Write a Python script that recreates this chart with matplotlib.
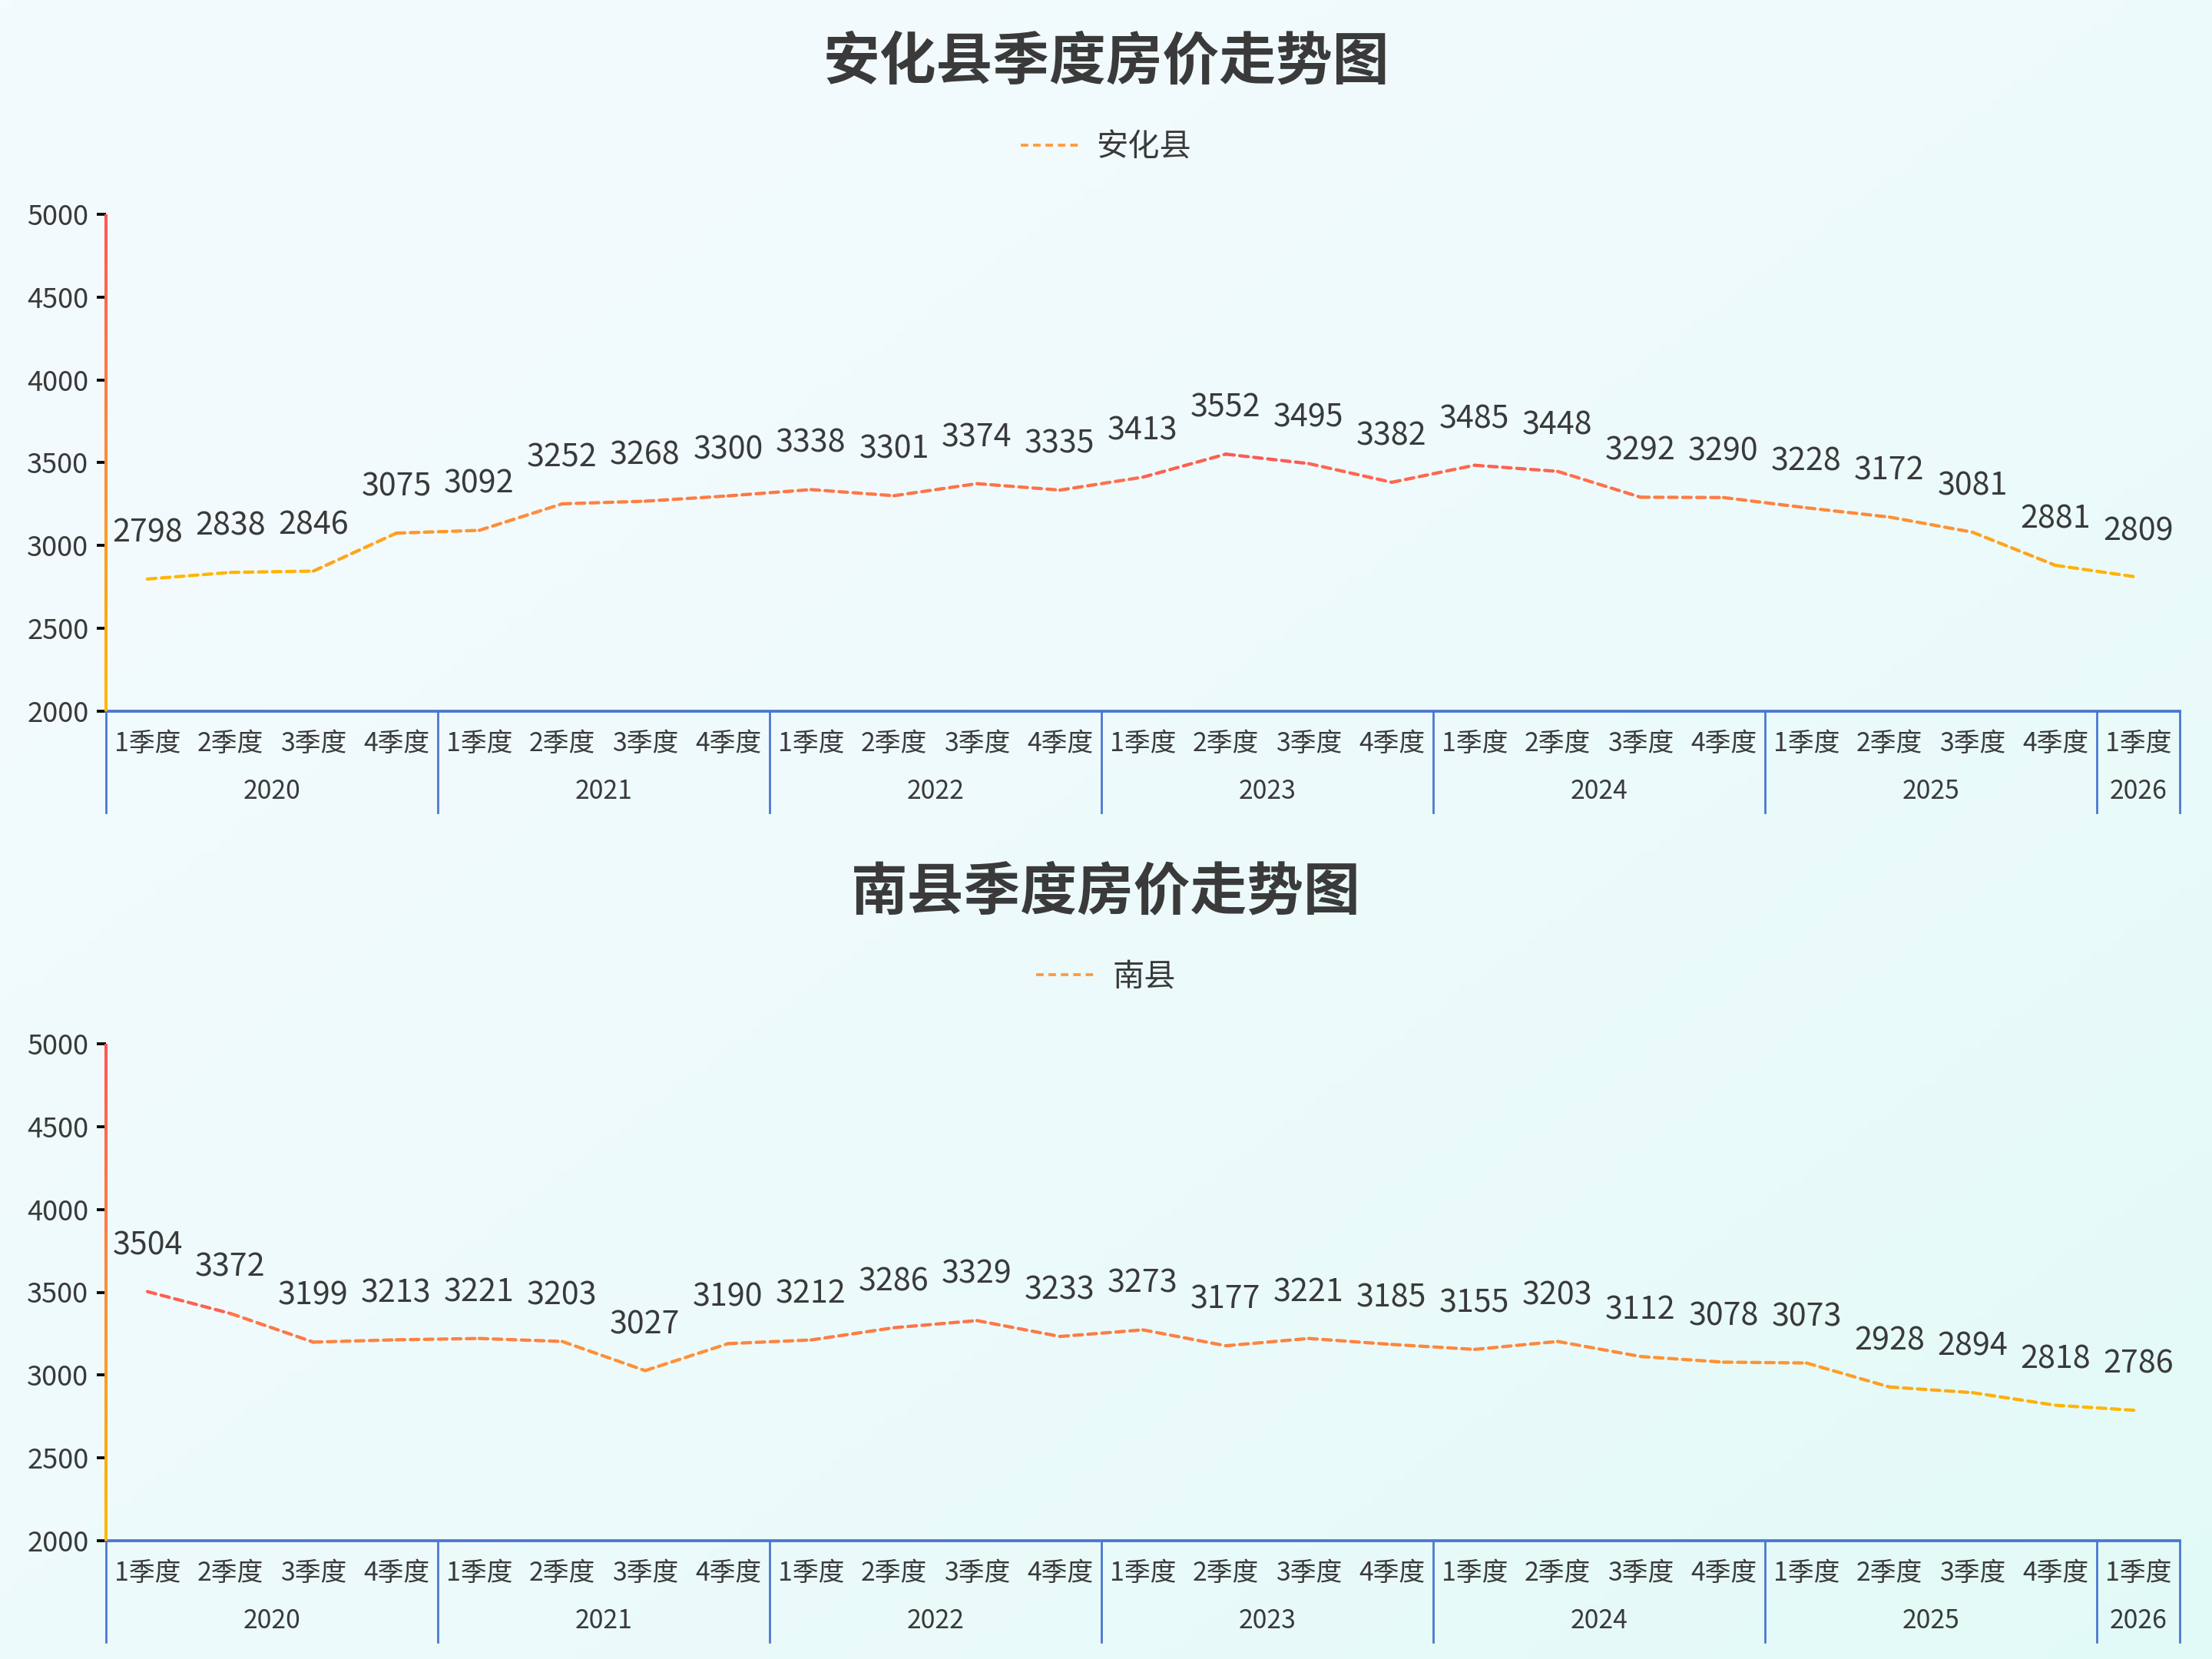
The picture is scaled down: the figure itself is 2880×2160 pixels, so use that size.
import numpy as np
import matplotlib
matplotlib.use("Agg")
import matplotlib.pyplot as plt
from matplotlib.collections import LineCollection
from matplotlib.colors import LinearSegmentedColormap
from matplotlib.lines import Line2D
import matplotlib.transforms as mtransforms

plt.rcParams['font.family'] = ['Noto Sans CJK SC', 'DejaVu Sans']

# data
quarters = ["1季度", "2季度", "3季度", "4季度"] * 6 + ["1季度"]
years = ["2020", "2021", "2022", "2023", "2024", "2025", "2026"]
year_sizes = [4, 4, 4, 4, 4, 4, 1]

anhua = [2798, 2838, 2846, 3075, 3092, 3252, 3268, 3300, 3338, 3301, 3374, 3335,
         3413, 3552, 3495, 3382, 3485, 3448, 3292, 3290, 3228, 3172, 3081, 2881, 2809]
nanxian = [3504, 3372, 3199, 3213, 3221, 3203, 3027, 3190, 3212, 3286, 3329, 3233,
           3273, 3177, 3221, 3185, 3155, 3203, 3112, 3078, 3073, 2928, 2894, 2818, 2786]

charts = [("安化县季度房价走势图", "安化县", anhua),
          ("南县季度房价走势图", "南县", nanxian)]

cmap = LinearSegmentedColormap.from_list("heat", ["#ffb800", "#ff8c3a", "#ff5656"])
TXT = "#3a3a3a"
BLUE = "#4a76cf"
W, H = 2880, 2160

fig = plt.figure(figsize=(16, 12), dpi=180)

# background gradient
bg = fig.add_axes([0, 0, 1, 1], zorder=-10)
gx, gy = np.meshgrid(np.linspace(0, 1, 200), np.linspace(0, 1, 150))
g = (gx + gy) / 2
c0 = np.array([0xf4, 0xfb, 0xfe]) / 255
c1 = np.array([0xe2, 0xfa, 0xf7]) / 255
img = c0 + (c1 - c0) * g[..., None] ** 1.5
bg.imshow(img, aspect="auto", extent=[0, 1, 0, 1], origin="upper")
bg.axis("off")

for k, (title, name, vals) in enumerate(charts):
    off = k * 1080
    ax = fig.add_axes([138 / W, 1 - (926 + off) / H, 2700 / W, 647 / H])
    ax.set_facecolor("none")
    x = np.arange(len(vals))
    y = np.array(vals, dtype=float)

    # gradient dashed line (colour by value inside series range)
    pts = np.column_stack([x, y])
    segs = np.stack([pts[:-1], pts[1:]], axis=1)
    mid = (y[:-1] + y[1:]) / 2
    norm = (mid - y.min()) / (y.max() - y.min())
    lc = LineCollection(segs, colors=cmap(norm), linewidths=1.7,
                        linestyles=[(0, (2.6, 1.7))], capstyle="round")
    ax.add_collection(lc)

    for xi, yi in zip(x, vals):
        ax.annotate(str(yi), (xi, yi), xytext=(0, 24), textcoords="offset points",
                    ha="center", va="center", fontsize=16.5, color=TXT)

    ax.set_xlim(-0.5, len(vals) - 0.5)
    ax.set_ylim(2000, 5000)
    ax.set_yticks(np.arange(2000, 5001, 500))
    ax.tick_params(axis="y", length=5, width=1.5, pad=4, labelsize=14.5, labelcolor=TXT)
    for t, v in zip(ax.yaxis.get_major_ticks(), ax.get_yticks()):
        t.tick1line.set_color(cmap((v - 2000) / 3000))
    ax.set_xticks([])
    for s in ["top", "right", "left"]:
        ax.spines[s].set_visible(False)
    ax.spines["bottom"].set_color(BLUE)
    ax.spines["bottom"].set_linewidth(1.5)

    # gradient y axis line
    yy = np.linspace(2000, 5000, 200)
    ysegs = np.stack([np.column_stack([np.full(199, -0.5), yy[:-1]]),
                      np.column_stack([np.full(199, -0.5), yy[1:]])], axis=1)
    ax.add_collection(LineCollection(ysegs, colors=cmap((yy[:-1] - 2000) / 3000),
                                     linewidths=1.6, clip_on=False, zorder=3))

    # two-level category axis
    trans = mtransforms.blended_transform_factory(ax.transData, ax.transAxes)
    for xi, q in zip(x, quarters):
        ax.text(xi, -0.065, q, transform=trans, ha="center", va="center",
                fontsize=13.5, color=TXT)
    start = 0
    bounds = [-0.5]
    for yr, n in zip(years, year_sizes):
        ax.text(start + (n - 1) / 2, -0.161, yr, transform=trans, ha="center",
                va="center", fontsize=13.5, color=TXT)
        start += n
        bounds.append(start - 0.5)
    for b in bounds:
        ax.plot([b, b], [0, -0.204], transform=trans, color=BLUE, lw=1.1,
                clip_on=False)

    # title + legend
    fig.text(0.5, 1 - (82 + off) / H, title, ha="center", va="center",
             fontsize=29.5, fontweight="bold", color=TXT)
    handle = Line2D([], [], color="#ff9a3c", lw=1.5, linestyle=(0, (2.6, 1.7)))
    fig.legend([handle], [name], loc="center", bbox_to_anchor=(0.5, 1 - (192 + off) / H),
               frameon=False, fontsize=16.5, handlelength=1.85, handletextpad=0.55,
               labelcolor=TXT)

fig.savefig("out.png", dpi=180)
